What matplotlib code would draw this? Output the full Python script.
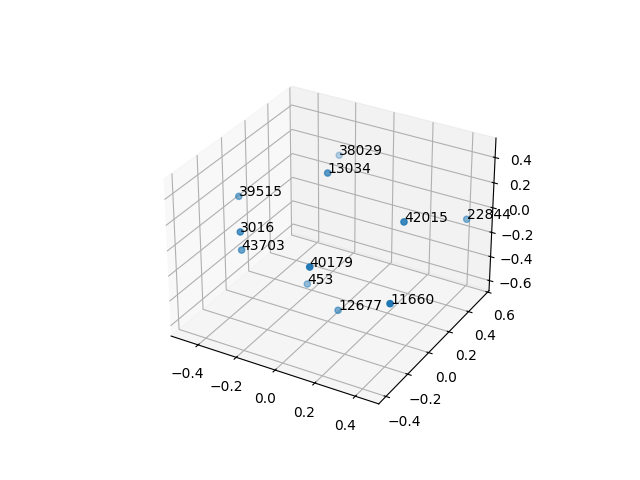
import matplotlib
matplotlib.use("Agg")
import matplotlib.pyplot as plt

labels = ["38029", "13034", "39515", "3016", "43703", "42015", "22844", "40179", "453", "12677", "11660"]
xs = [-0.252, -0.059, -0.453, -0.297, -0.334, 0.353, 0.436, 0.102, -0.144, 0.070, 0.450]
ys = [0.553, 0.105, -0.012, -0.252, -0.187, 0.049, 0.508, -0.334, 0.065, -0.029, -0.254]
zs = [0.148, 0.400, 0.134, 0.099, -0.111, 0.239, -0.047, 0.072, -0.498, -0.535, -0.111]

fig = plt.figure()
ax = fig.add_subplot(projection="3d")
ax.scatter(xs, ys, zs)

for i in range(len(labels)):
    ax.text(xs[i], ys[i], zs[i], labels[i])

ax.set_xlim(-0.544, 0.514)
ax.set_ylim(-0.465, 0.615)
ax.set_zlim(-0.685, 0.552)

plt.savefig("out.png")
